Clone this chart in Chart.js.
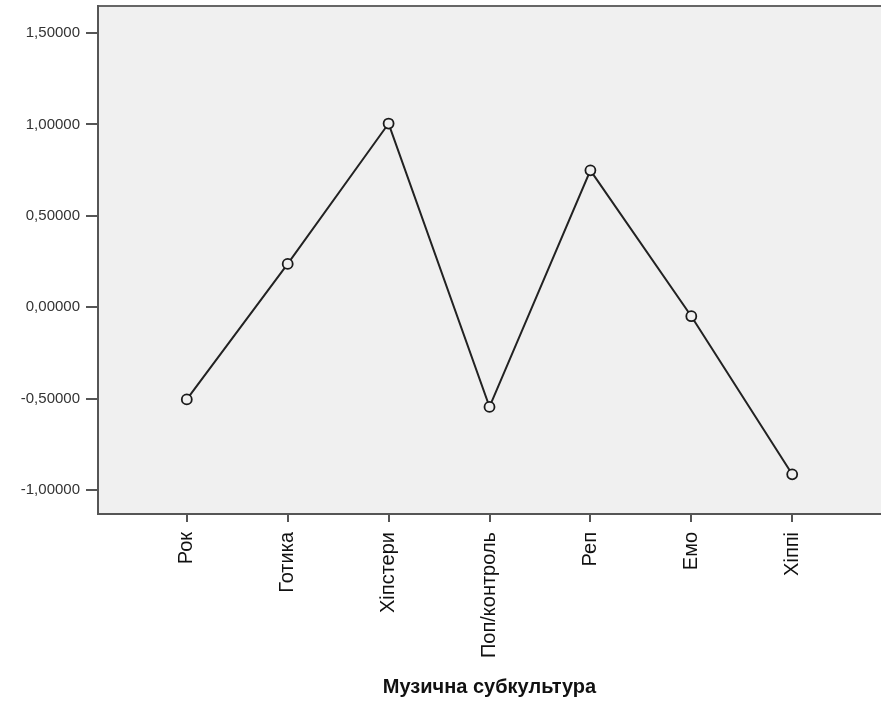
<!DOCTYPE html>
<html><head><meta charset="utf-8">
<script src="https://cdn.jsdelivr.net/npm/chart.js@4.4.1/dist/chart.umd.min.js"></script>
<style>html,body{margin:0;padding:0;background:#fff;overflow:hidden}#wrap{width:881px;height:704px}canvas{display:block}</style>
</head><body><div id="wrap"><canvas id="c" width="881" height="704"></canvas></div>
<script>
const categories = ['Рок','Готика','Хіпстери','Поп/контроль','Реп','Емо','Хіппі'];
const meanValues = [-0.504, 0.237, 1.005, -0.545, 0.749, -0.049, -0.914];
const yTickValues = [-1.0, -0.5, 0, 0.5, 1.0, 1.5];
const xTitle = 'Музична субкультура';

const points = categories.map((c, i) => ({x: i, y: meanValues[i]}));

const plotBg = {
  id: 'plotBg',
  beforeDraw(chart) {
    const {ctx, chartArea: {left, top, right, bottom}} = chart;
    ctx.save();
    ctx.fillStyle = '#f0f0f0';
    ctx.fillRect(left, top, right - left, bottom - top);
    ctx.strokeStyle = '#666';
    ctx.lineWidth = 2;
    ctx.beginPath();
    ctx.moveTo(left, top);
    ctx.lineTo(right, top);
    ctx.stroke();
    ctx.restore();
  }
};

new Chart(document.getElementById('c'), {
  type: 'line',
  data: {
    datasets: [{
      data: points,
      borderColor: '#222',
      borderWidth: 2,
      pointRadius: 5,
      pointHoverRadius: 5,
      pointBorderWidth: 1.8,
      pointBorderColor: '#1a1a1a',
      pointBackgroundColor: '#f0f0f0',
      tension: 0,
      fill: false
    }]
  },
  options: {
    responsive: false,
    devicePixelRatio: 1,
    animation: false,
    layout: {autoPadding: false, padding: {top: 6, right: 0, bottom: 0, left: 0}},
    plugins: {legend: {display: false}, tooltip: {enabled: false}},
    scales: {
      x: {
        type: 'linear',
        min: -0.88,
        max: 6.88,
        afterBuildTicks(scale) {
          scale.ticks = categories.map((c, i) => ({value: i}));
        },
        afterFit(scale) {
          scale.height = 190;
          scale.paddingLeft = 0;
          scale.paddingRight = 0;
        },
        grid: {drawOnChartArea: false, drawTicks: true, tickLength: 8, color: '#555', lineWidth: 2},
        border: {display: true, color: '#555', width: 2},
        ticks: {
          autoSkip: false,
          minRotation: 90,
          maxRotation: 90,
          padding: 10,
          color: '#111',
          font: {family: '"Liberation Sans", Arial, sans-serif', size: 20},
          callback: (v) => categories[v]
        },
        title: {
          display: true,
          text: xTitle,
          color: '#111',
          font: {family: '"Liberation Sans", Arial, sans-serif', size: 20, weight: 'bold'},
          padding: {top: 4, bottom: 5}
        }
      },
      y: {
        type: 'linear',
        min: -1.131,
        max: 1.648,
        afterBuildTicks(scale) {
          scale.ticks = yTickValues.map(v => ({value: v}));
        },
        afterFit(scale) {
          scale.width = 98;
          scale.paddingTop = 0;
          scale.paddingBottom = 0;
        },
        grid: {drawOnChartArea: false, drawTicks: true, tickLength: 12, color: '#555', lineWidth: 2},
        border: {display: true, color: '#555', width: 2},
        ticks: {
          padding: 6,
          color: '#333',
          font: {family: '"Liberation Sans", Arial, sans-serif', size: 15},
          callback: (v) => v.toFixed(5).replace('.', ',')
        }
      }
    }
  },
  plugins: [plotBg]
});
</script>
</body></html>
